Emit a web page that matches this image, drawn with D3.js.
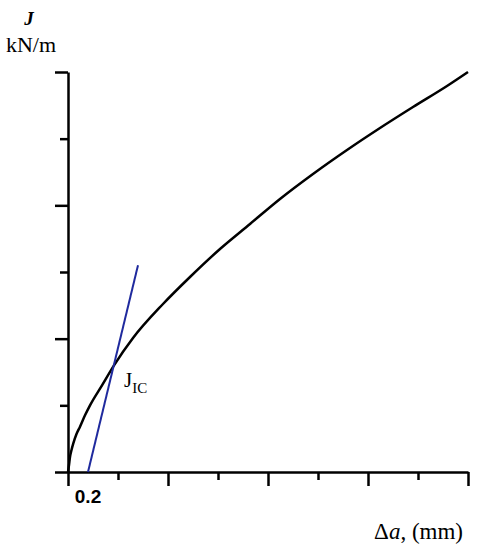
<!DOCTYPE html>
<html>
<head>
<meta charset="utf-8">
<script src="https://cdn.jsdelivr.net/npm/d3@7"></script>
<style>
  body { margin: 0; background: #fff; }
</style>
</head>
<body>
<svg id="vis"></svg>
<script>
  // J-R curve (crack growth in mm, J in tick units)
  var crackGrowth = [0, 0.01, 0.02, 0.035, 0.053, 0.085, 0.12, 0.17, 0.22, 0.34, 0.46, 0.65, 0.95, 1.22, 1.52, 1.82, 2.12, 2.45, 2.79, 3.12, 3.45, 3.79, 4.0];
  var jValues     = [0, 0.105, 0.225, 0.33, 0.43, 0.57, 0.68, 0.85, 1.0, 1.3, 1.6, 2.01, 2.52, 2.925, 3.345, 3.72, 4.095, 4.47, 4.83, 5.16, 5.475, 5.79, 6.0];

  // offset (blunting) line through 0.2 mm
  var offsetX = [0.2, 0.70];
  var offsetY = [0, 3.1];

  var xTicks = [0, 0.5, 1, 1.5, 2, 2.5, 3, 3.5, 4];
  var yTicks = [0, 1, 2, 3, 4, 5, 6];

  var svg = d3.select('#vis')
      .attr('width', 481)
      .attr('height', 550);

  var xScale = d3.scaleLinear()
      .domain([0, 4])
      .range([68, 468]);

  var yScale = d3.scaleLinear()
      .domain([0, 6])
      .range([472, 72]);

  // axes
  var xAxis = svg.append('g')
      .attr('transform', 'translate(0,472)')
      .call(d3.axisBottom(xScale).tickValues(xTicks).tickSize(14).tickSizeOuter(0).tickFormat(''));
  xAxis.selectAll('.tick line')
      .attr('y2', function(d) { return d % 1 === 0 ? 14 : 8; });

  var yAxis = svg.append('g')
      .attr('transform', 'translate(68,0)')
      .call(d3.axisLeft(yScale).tickValues(yTicks).tickSize(13).tickSizeOuter(0).tickFormat(''));
  yAxis.selectAll('.tick line')
      .attr('x2', function(d) { return d % 2 === 0 ? -13 : -8; });

  svg.selectAll('.domain, .tick line')
      .attr('stroke', '#000')
      .attr('stroke-width', 2.5);

  // curve
  var curve = crackGrowth.map(function(x, i) { return [x, jValues[i]]; });
  var line = d3.line()
      .x(function(d) { return xScale(d[0]); })
      .y(function(d) { return yScale(d[1]); })
      .curve(d3.curveMonotoneX);

  svg.append('path')
      .datum(curve)
      .attr('d', line)
      .attr('fill', 'none')
      .attr('stroke', '#000')
      .attr('stroke-width', 2.5);

  svg.append('path')
      .datum(offsetX.map(function(x, i) { return [x, offsetY[i]]; }))
      .attr('d', d3.line().x(function(d) { return xScale(d[0]); }).y(function(d) { return yScale(d[1]); }))
      .attr('fill', 'none')
      .attr('stroke', '#1f2a9e')
      .attr('stroke-width', 2);

  // labels
  svg.append('text')
      .attr('x', 29).attr('y', 25)
      .attr('text-anchor', 'middle')
      .style('font', 'italic bold 19px "Liberation Serif"')
      .text('J');

  svg.append('text')
      .attr('x', 31).attr('y', 52)
      .attr('text-anchor', 'middle')
      .style('font', '22px "Liberation Serif"')
      .text('kN/m');

  svg.append('text')
      .attr('x', xScale(0.2)).attr('y', 503)
      .attr('text-anchor', 'middle')
      .style('font', 'bold 19px "Liberation Sans"')
      .text('0.2');

  var dx = svg.append('text')
      .attr('x', 463).attr('y', 539)
      .attr('text-anchor', 'end')
      .style('font', '23px "Liberation Serif"');
  dx.append('tspan').text('\u0394');
  dx.append('tspan').style('font-style', 'italic').text('a');
  dx.append('tspan').text(', (mm)');

  var jic = svg.append('text')
      .attr('x', 124).attr('y', 387)
      .style('font', '21px "Liberation Serif"');
  jic.append('tspan').text('J');
  jic.append('tspan').attr('dy', 6).style('font-size', '15px').text('IC');
</script>
</body>
</html>
